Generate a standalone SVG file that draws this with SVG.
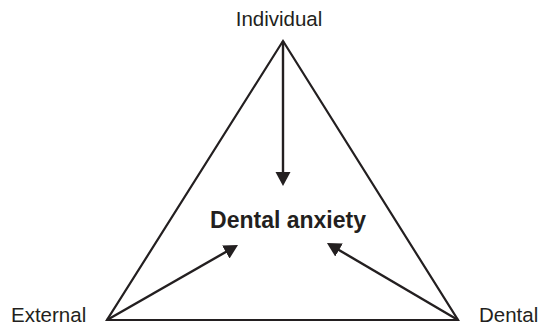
<svg xmlns="http://www.w3.org/2000/svg" width="539" height="325" viewBox="0 0 539 325">
<style>
.lbl{font-family:"Liberation Sans",Arial,sans-serif;font-size:20.5px;fill:#231f20}
.title{font-family:"Liberation Sans",Arial,sans-serif;font-size:23px;font-weight:bold;fill:#231f20}
.edge{stroke:#231f20;stroke-width:2.4;fill:none}
</style>
<defs>
<marker id="ah" markerUnits="userSpaceOnUse" markerWidth="15" markerHeight="16" refX="10" refY="7.5" orient="auto">
<path d="M0,0 L14,7.5 L0,15 z" fill="#231f20"/>
</marker>
</defs>
<rect width="539" height="325" fill="#fff"/>
<g id="triangle">
<polygon points="283,41 107,320 458,320" fill="none" stroke="#231f20" stroke-width="2.2" stroke-linejoin="miter"/>
</g>
<g id="node-individual"><text class="lbl" x="279" y="26" text-anchor="middle">Individual</text></g>
<g id="node-external"><text class="lbl" x="11" y="322">External</text></g>
<g id="node-dental"><text class="lbl" x="479" y="322">Dental</text></g>
<g id="node-anxiety"><text class="title" x="288" y="228" text-anchor="middle">Dental anxiety</text></g>
<g id="connectors">
<line class="edge" x1="283" y1="41" x2="283" y2="182" marker-end="url(#ah)"/>
<line class="edge" x1="107" y1="320" x2="234.5" y2="247" marker-end="url(#ah)"/>
<line class="edge" x1="458" y1="320" x2="330.4" y2="245" marker-end="url(#ah)"/>
</g>
</svg>
